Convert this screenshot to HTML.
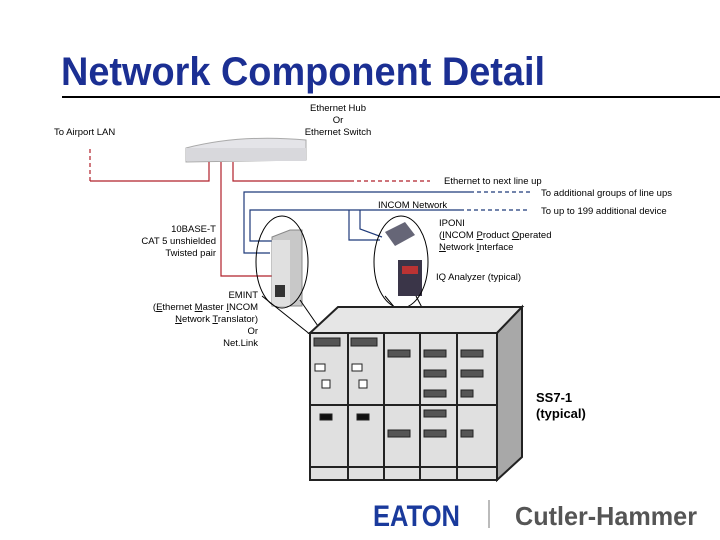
<!DOCTYPE html>
<html><head><meta charset="utf-8"><style>
html,body{margin:0;padding:0;background:#fff;}
svg{display:block;}
text{font-family:"Liberation Sans",sans-serif;}
</style></head><body>
<svg width="720" height="540" viewBox="0 0 720 540" xmlns="http://www.w3.org/2000/svg">
<text x="61" y="85" font-size="40" font-weight="bold" fill="#1b2f93" textLength="484" lengthAdjust="spacingAndGlyphs">Network Component Detail</text>
<line x1="62" y1="97" x2="720" y2="97" stroke="#000" stroke-width="2"/>
<g font-size="9.5" fill="#000">
<text x="338" y="111" text-anchor="middle">Ethernet Hub</text>
<text x="338" y="123" text-anchor="middle">Or</text>
<text x="338" y="135" text-anchor="middle">Ethernet Switch</text>
<text x="54" y="135">To Airport LAN</text>
<text x="444" y="184">Ethernet to next line up</text>
<text x="541" y="196">To additional groups of line ups</text>
<text x="378" y="208">INCOM Network</text>
<text x="541" y="214">To up to 199 additional device</text>
<text x="439" y="226">IPONI</text>
<text x="439" y="238">(<tspan text-decoration="underline">I</tspan>NCOM <tspan text-decoration="underline">P</tspan>roduct <tspan text-decoration="underline">O</tspan>perated</text>
<text x="439" y="250"><tspan text-decoration="underline">N</tspan>etwork <tspan text-decoration="underline">I</tspan>nterface</text>
<text x="436" y="280">IQ Analyzer (typical)</text>
<text x="216" y="232" text-anchor="end">10BASE-T</text>
<text x="216" y="244" text-anchor="end">CAT 5 unshielded</text>
<text x="216" y="256" text-anchor="end">Twisted pair</text>
<text x="258" y="298" text-anchor="end">EMINT</text>
<text x="258" y="310" text-anchor="end">(<tspan text-decoration="underline">E</tspan>thernet <tspan text-decoration="underline">M</tspan>aster <tspan text-decoration="underline">I</tspan>NCOM</text>
<text x="258" y="322" text-anchor="end"><tspan text-decoration="underline">N</tspan>etwork <tspan text-decoration="underline">T</tspan>ranslator)</text>
<text x="258" y="334" text-anchor="end">Or</text>
<text x="258" y="346" text-anchor="end">Net.Link</text>
</g>
<text x="536" y="402" font-size="13" font-weight="bold">SS7-1</text>
<text x="536" y="418" font-size="13" font-weight="bold">(typical)</text>
<path d="M186 148 Q240 134 306 140 L306 160 L186 162 Z" fill="#e4e4e8" stroke="#aaa"/>
<rect x="186" y="148" width="120" height="13" fill="#d8d8dc"/>
<g fill="none" stroke="#b0202a" stroke-width="1.2">
<path d="M209 162 V181 H90"/>
<path d="M90 181 V148" stroke-dasharray="4,3"/>
<path d="M221 162 V276 H272"/>
<path d="M233 162 V181 H350"/>
<path d="M350 181 H430" stroke-dasharray="4,3"/>
</g>
<g fill="none" stroke="#1f3a7a" stroke-width="1.2">
<path d="M470 192 H244 V253 H270"/>
<path d="M470 192 H530" stroke-dasharray="4,3"/>
<path d="M460 210 H250 V241 H272"/>
<path d="M460 210 H530" stroke-dasharray="4,3"/>
<path d="M349 210 V240 H380"/>
<path d="M360 210 V229 L382 237"/>
</g>
<path d="M272 237 L290 230 L302 230 L302 306 L272 306 Z" fill="#c8c8c8" stroke="#888"/>
<rect x="272" y="240" width="18" height="66" fill="#e0e0e0"/>
<rect x="275" y="285" width="10" height="12" fill="#333"/>
<path d="M385 232 L405 222 L415 235 L395 246 Z" fill="#667"/>
<rect x="398" y="260" width="24" height="36" fill="#3a3548"/>
<rect x="402" y="266" width="16" height="8" fill="#b33"/>
<ellipse cx="282" cy="262" rx="26" ry="46" fill="none" stroke="#000"/>
<ellipse cx="401" cy="262" rx="27" ry="46" fill="none" stroke="#000"/>
<g stroke="#000" fill="none">
<line x1="262" y1="296" x2="336" y2="355"/>
<line x1="300" y1="300" x2="338" y2="355"/>
<line x1="385" y1="296" x2="430" y2="350"/>
<line x1="416" y1="296" x2="444" y2="350"/>
</g>
<path d="M310 333 L338 307 L522 307 L497 333 Z" fill="#e6e6e6" stroke="#222" stroke-width="2"/>
<path d="M497 333 L522 307 L522 457 L497 480 Z" fill="#a8a8a8" stroke="#222" stroke-width="2"/>
<rect x="310" y="333" width="187" height="147" fill="#e0e0e0" stroke="#222" stroke-width="2"/>
<g stroke="#222" stroke-width="2">
<line x1="348" y1="333" x2="348" y2="480"/>
<line x1="384" y1="333" x2="384" y2="480"/>
<line x1="420" y1="333" x2="420" y2="480"/>
<line x1="457" y1="333" x2="457" y2="480"/>
<line x1="310" y1="467" x2="497" y2="467"/>
<line x1="310" y1="405" x2="497" y2="405"/>
</g>
<g fill="#555" stroke="#222">
<rect x="314" y="338" width="26" height="8"/><rect x="351" y="338" width="26" height="8"/>
<rect x="388" y="350" width="22" height="7"/><rect x="424" y="350" width="22" height="7"/><rect x="461" y="350" width="22" height="7"/>
<rect x="424" y="370" width="22" height="7"/><rect x="461" y="370" width="22" height="7"/>
<rect x="424" y="390" width="22" height="7"/><rect x="461" y="390" width="12" height="7"/>
<rect x="424" y="410" width="22" height="7"/>
<rect x="388" y="430" width="22" height="7"/><rect x="424" y="430" width="22" height="7"/><rect x="461" y="430" width="12" height="7"/>
<rect x="320" y="414" width="12" height="6" fill="#111"/><rect x="357" y="414" width="12" height="6" fill="#111"/>
<rect x="315" y="364" width="10" height="7" fill="#fff"/><rect x="352" y="364" width="10" height="7" fill="#fff"/>
<rect x="322" y="380" width="8" height="8" fill="#fff"/><rect x="359" y="380" width="8" height="8" fill="#fff"/>
</g>
<text x="373" y="526" font-size="30" font-weight="bold" fill="#1a3a9c" textLength="87" lengthAdjust="spacingAndGlyphs">EATON</text>
<line x1="489" y1="500" x2="489" y2="528" stroke="#bbb" stroke-width="2"/>
<text x="515" y="525" font-size="26" font-weight="bold" fill="#555" textLength="182" lengthAdjust="spacingAndGlyphs">Cutler-Hammer</text>
</svg>
</body></html>
